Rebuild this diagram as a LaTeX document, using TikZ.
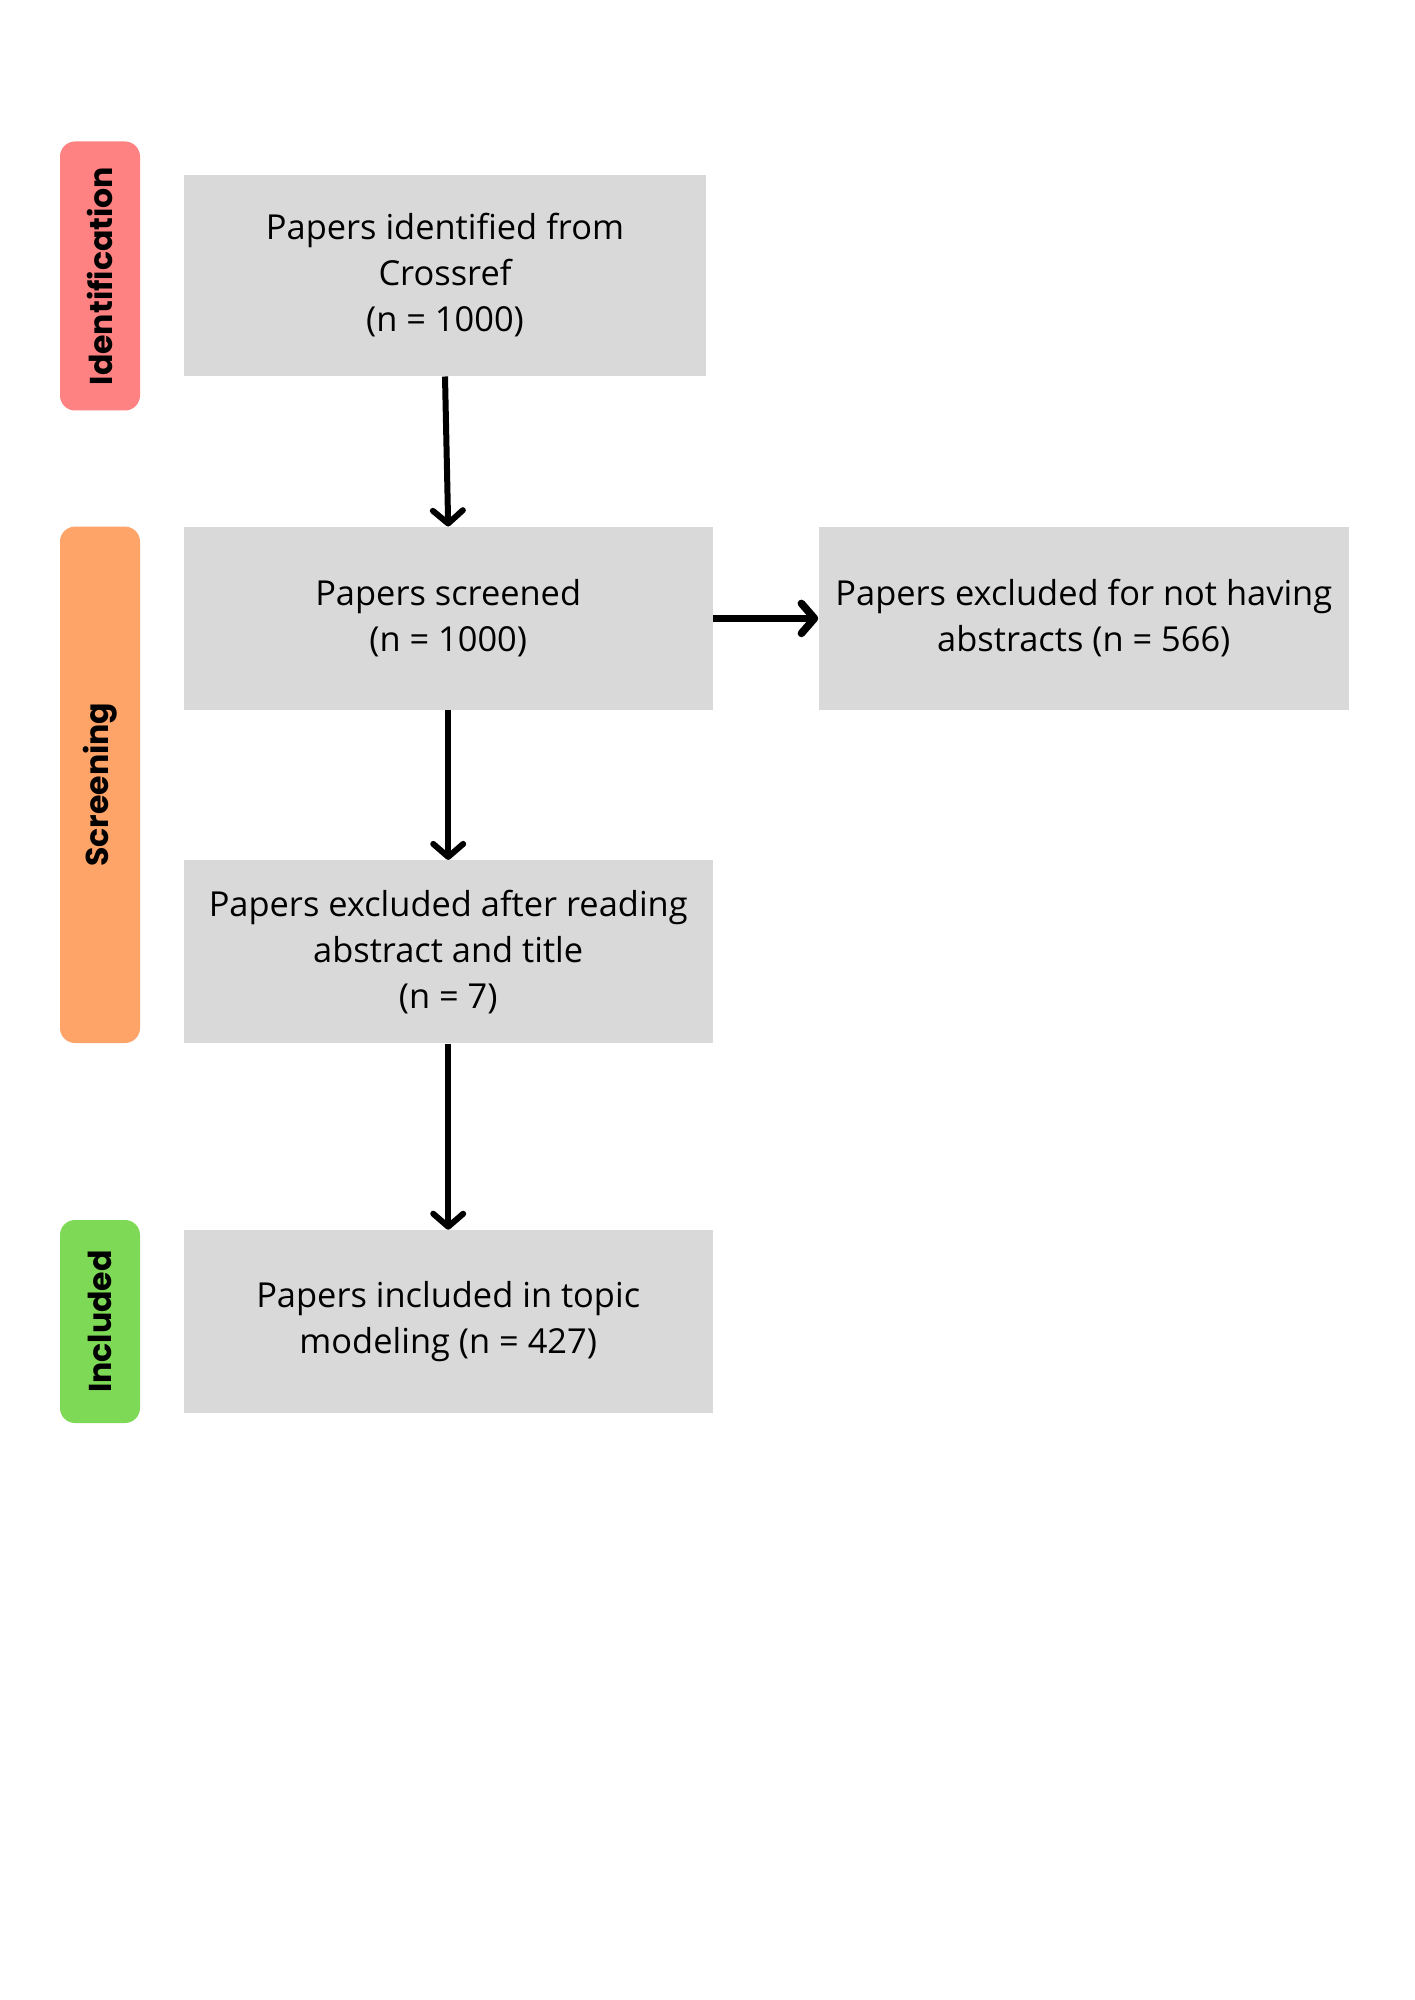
\documentclass[tikz,border=0pt]{standalone}
\usepackage{fontspec}
\setmainfont{Open Sans}
\newfontfamily\tabfont{Poppins}
\usepackage{xcolor}
\definecolor{boxgray}{HTML}{D9D9D9}
\definecolor{idred}{HTML}{FF8282}
\definecolor{scrorange}{HTML}{FFA468}
\definecolor{incgreen}{HTML}{7ED957}
\usetikzlibrary{arrows.meta,positioning}

\begin{document}
\begin{tikzpicture}[x=0.5pt,y=-0.5pt,
  stagebox/.style={fill=boxgray, minimum width=264.5pt, minimum height=91.5pt,
    align=center, inner sep=0pt, font=\fontsize{17.2}{23}\selectfont},
  phasetab/.style={rounded corners=7.5pt, rotate=90, minimum height=40pt,
    inner sep=0pt, font=\tabfont\bfseries\fontsize{15.8}{18}\selectfont},
  flow/.style={line width=3pt, -{Straight Barb[length=6.5pt,width=15pt,round]}}]

  % Page
  \useasboundingbox (0,0) rectangle (1414,2000);

  % Phase tabs
  \node[phasetab, fill=idred, minimum width=134.5pt] (identtab) at (100,276) {Identification};
  \node[phasetab, fill=scrorange, minimum width=258.2pt] (screentab) at (100,784.8) {Screening};
  \node[phasetab, fill=incgreen, minimum width=101.5pt] (incltab) at (100,1321.5) {Included};

  % Boxes
  \node[stagebox, minimum width=261.4pt, minimum height=100.7pt] (identified) at (445,275.4)
    {Papers identified from\\Crossref\\(n = 1000)};
  \node[stagebox] (screened) at (448.2,618.4) {Papers screened\\(n = 1000)};
  \node[stagebox, minimum width=265.2pt] (noabstract) at (1083.8,618.4)
    {Papers excluded for not having\\abstracts (n = 566)};
  \node[stagebox] (afterread) at (448.2,951.8)
    {Papers excluded after reading\\abstract and title\\(n = 7)};
  \node[stagebox] (included) at (448.2,1321.6)
    {Papers included in topic\\modeling (n = 427)};

  % Arrows
  \draw[flow] (identified.south) -- (screened.north);
  \draw[flow, line width=3.8pt] (screened.east) -- (noabstract.west);
  \draw[flow] (screened.south) -- (afterread.north);
  \draw[flow] (afterread.south) -- (included.north);
\end{tikzpicture}
\end{document}
